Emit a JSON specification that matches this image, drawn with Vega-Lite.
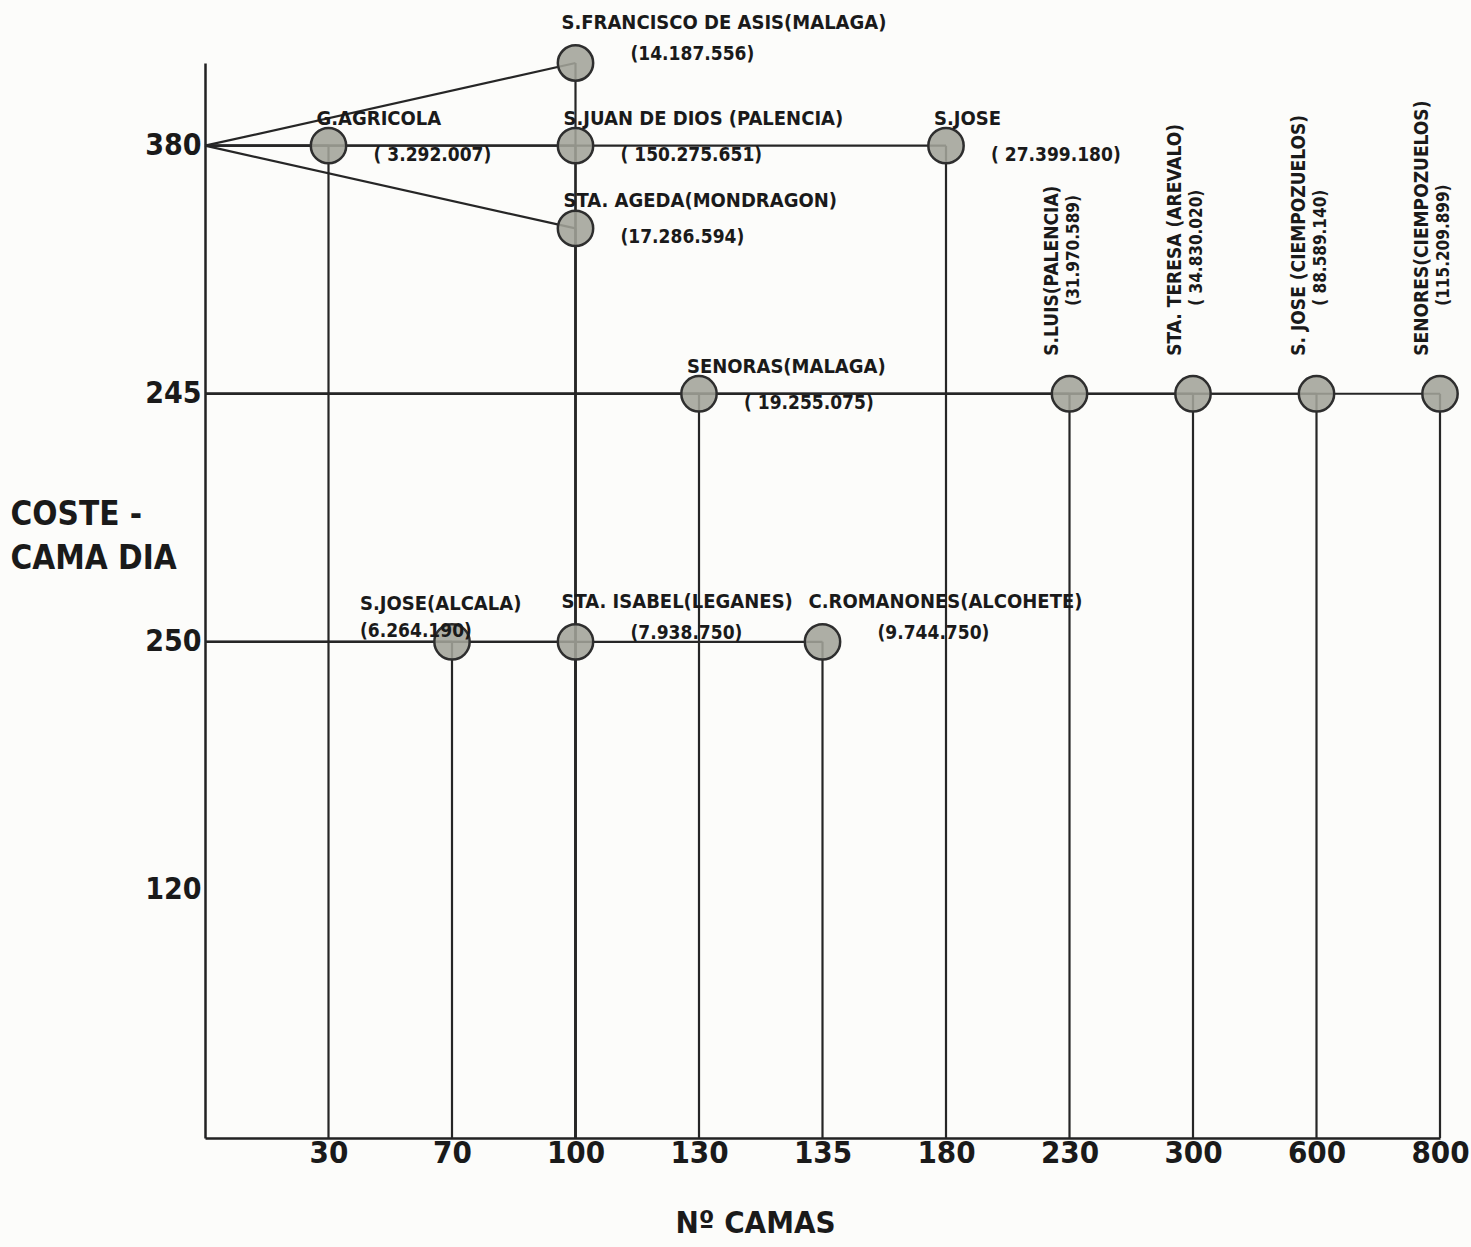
{
  "$schema": "https://vega.github.io/schema/vega-lite/v6.json",
  "width": 1235,
  "height": 1075,
  "autosize": {"type": "none"},
  "padding": {"left": 205, "top": 63, "right": 31, "bottom": 109},
  "background": "#fcfcfa",
  "config": {
    "view": {"stroke": null},
    "font": "DejaVu Sans Condensed, DejaVu Sans",
    "axis": {"domainColor": "#222222", "domainWidth": 2.5, "grid": false, "ticks": false, "labelColor": "#1a1a1a", "titleColor": "#1a1a1a", "labelFont": "DejaVu Sans Condensed, DejaVu Sans", "titleFont": "DejaVu Sans Condensed, DejaVu Sans", "labelFontWeight": "bold", "titleFontWeight": "bold"}
  },
  "data": {
    "values": [
      {"nombre": "S.FRANCISCO DE ASIS(MALAGA)", "importe": "(14.187.556)", "camas": "100", "coste": "380", "nivel": "380 arriba"},
      {"nombre": "G.AGRICOLA", "importe": "( 3.292.007)", "camas": "30", "coste": "380", "nivel": "380"},
      {"nombre": "S.JUAN DE DIOS (PALENCIA)", "importe": "( 150.275.651)", "camas": "100", "coste": "380", "nivel": "380"},
      {"nombre": "STA. AGEDA(MONDRAGON)", "importe": "(17.286.594)", "camas": "100", "coste": "380", "nivel": "380 abajo"},
      {"nombre": "S.JOSE", "importe": "( 27.399.180)", "camas": "180", "coste": "380", "nivel": "380"},
      {"nombre": "SENORAS(MALAGA)", "importe": "( 19.255.075)", "camas": "130", "coste": "245", "nivel": "245"},
      {"nombre": "S.LUIS(PALENCIA)", "importe": "(31.970.589)", "camas": "230", "coste": "245", "nivel": "245"},
      {"nombre": "STA. TERESA (AREVALO)", "importe": "( 34.830.020)", "camas": "300", "coste": "245", "nivel": "245"},
      {"nombre": "S. JOSE (CIEMPOZUELOS)", "importe": "( 88.589.140)", "camas": "600", "coste": "245", "nivel": "245"},
      {"nombre": "SENORES(CIEMPOZUELOS)", "importe": "(115.209.899)", "camas": "800", "coste": "245", "nivel": "245"},
      {"nombre": "S.JOSE(ALCALA)", "importe": "(6.264.190)", "camas": "70", "coste": "250", "nivel": "250"},
      {"nombre": "STA. ISABEL(LEGANES)", "importe": "(7.938.750)", "camas": "100", "coste": "250", "nivel": "250"},
      {"nombre": "C.ROMANONES(ALCOHETE)", "importe": "(9.744.750)", "camas": "135", "coste": "250", "nivel": "250"}
    ]
  },
  "encoding": {
    "x": {
      "field": "camas", "type": "ordinal",
      "scale": {"type": "point", "domain": ["0", "30", "70", "100", "130", "135", "180", "230", "300", "600", "800"], "padding": 0},
      "axis": {"title": "Nº CAMAS", "labelExpr": "datum.value == '0' ? '' : datum.value", "labelFontSize": 31, "labelPadding": 0, "labelAngle": 0, "titleFontSize": 31, "titleX": 550, "titleY": 70, "titleBaseline": "top", "titleAlign": "center"}
    },
    "y": {
      "field": "nivel", "type": "ordinal",
      "scale": {"type": "point", "domain": ["380 arriba", "380", "380 abajo", "e1", "245", "e2", "e3", "250", "e4", "e5", "120", "e6", "e7", "base"], "padding": 0},
      "axis": {"title": ["COSTE -", "CAMA DIA"], "labelExpr": "indexof(['380','245','250','120'], datum.value) >= 0 ? datum.value : ''", "labelFontSize": 30, "labelPadding": 4, "titleFontSize": 33, "titleAngle": 0, "titleAlign": "left", "titleBaseline": "top", "titleX": -195, "titleY": 435, "titleLineHeight": 44}
    }
  },
  "layer": [
    {
      "mark": {"type": "rule", "color": "#262626", "strokeWidth": 2.2},
      "encoding": {"y2": {"datum": "base"}}
    },
    {
      "mark": {"type": "rule", "color": "#262626", "strokeWidth": 2.2},
      "encoding": {
        "x": {"datum": "0", "type": "ordinal"},
        "x2": {"field": "camas"},
        "y": {"field": "coste", "type": "ordinal"},
        "y2": {"field": "nivel"}
      }
    },
    {
      "mark": {"type": "point", "filled": true, "size": 1250, "fill": "#a2a399", "stroke": "#2e2e2e", "strokeWidth": 2.5, "opacity": 1, "fillOpacity": 0.88}
    },
    {
      "transform": [{"filter": "indexof(['230','300','600','800'], datum.camas) < 0 && datum.camas != '70' && datum.coste != '250' && datum.nivel != '380 arriba'"}],
      "layer": [
        {"mark": {"type": "text", "align": "left", "baseline": "middle", "dx": -12, "dy": -27, "fontSize": 20, "fontWeight": "bold", "color": "#1a1a1a"}, "encoding": {"text": {"field": "nombre"}}},
        {"mark": {"type": "text", "align": "left", "baseline": "middle", "dx": 45, "dy": 9, "fontSize": 19, "fontWeight": "bold", "color": "#1a1a1a"}, "encoding": {"text": {"field": "importe"}}}
      ]
    },
    {
      "transform": [{"filter": "datum.camas != '70' && (datum.coste == '250' || datum.nivel == '380 arriba')"}],
      "layer": [
        {"mark": {"type": "text", "align": "left", "baseline": "middle", "dx": -14, "dy": -40, "fontSize": 20, "fontWeight": "bold", "color": "#1a1a1a"}, "encoding": {"text": {"field": "nombre"}}},
        {"mark": {"type": "text", "align": "left", "baseline": "middle", "dx": 55, "dy": -9, "fontSize": 19, "fontWeight": "bold", "color": "#1a1a1a"}, "encoding": {"text": {"field": "importe"}}}
      ]
    },
    {
      "transform": [{"filter": "datum.camas == '70'"}],
      "layer": [
        {"mark": {"type": "text", "align": "left", "baseline": "middle", "dx": -92, "dy": -38, "fontSize": 20, "fontWeight": "bold", "color": "#1a1a1a"}, "encoding": {"text": {"field": "nombre"}}},
        {"mark": {"type": "text", "align": "left", "baseline": "middle", "dx": -92, "dy": -11, "fontSize": 19, "fontWeight": "bold", "color": "#1a1a1a"}, "encoding": {"text": {"field": "importe"}}}
      ]
    },
    {
      "transform": [{"filter": "indexof(['230','300','600','800'], datum.camas) >= 0"}],
      "layer": [
        {"mark": {"type": "text", "angle": 270, "align": "left", "baseline": "bottom", "dx": 38, "dy": -8, "fontSize": 19, "fontWeight": "bold", "color": "#1a1a1a"}, "encoding": {"text": {"field": "nombre"}}},
        {"mark": {"type": "text", "angle": 270, "align": "left", "baseline": "bottom", "dx": 88, "dy": 13, "fontSize": 17, "fontWeight": "bold", "color": "#1a1a1a"}, "encoding": {"text": {"field": "importe"}}}
      ]
    }
  ]
}
